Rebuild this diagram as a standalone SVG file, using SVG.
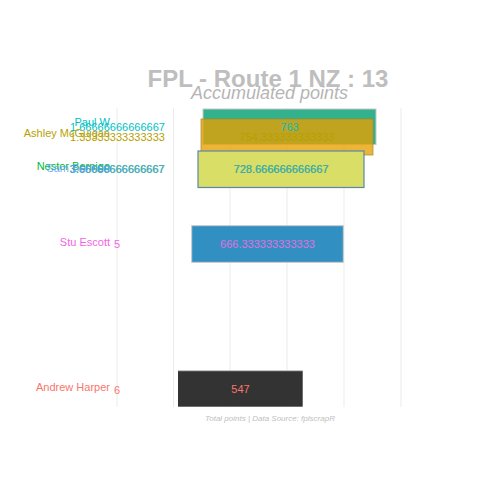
<svg xmlns="http://www.w3.org/2000/svg" width="480" height="480" viewBox="0 0 480 480">
<style>
text{font-family:"Liberation Sans",Arial,sans-serif}
.grid{stroke:#EBEBEB;stroke-width:1}
.name{font-size:11px;text-anchor:end}
.rank{font-size:11px;text-anchor:middle}
.val{font-size:11px;text-anchor:middle}
.title{font-size:24px;font-weight:bold;fill:#BEBEBE;text-anchor:middle}
.sub{font-size:18px;font-style:italic;fill:#B5B5B5;text-anchor:middle}
.cap{font-size:8px;font-style:italic;fill:#C0C0C0;text-anchor:middle}
</style>
<rect width="480" height="480" fill="#FFFFFF"/>
<g id="grid">
<line class="grid" x1="117" y1="108" x2="117" y2="407"/>
<line class="grid" x1="173.5" y1="108" x2="173.5" y2="407"/>
<line class="grid" x1="230" y1="108" x2="230" y2="407"/>
<line class="grid" x1="287" y1="108" x2="287" y2="407"/>
<line class="grid" x1="344" y1="108" x2="344" y2="407"/>
<line class="grid" x1="401" y1="108" x2="401" y2="407"/>
</g>
<g id="connectors"></g>
<g id="paul-w">
<rect x="203" y="109" width="173" height="35.5" fill="#33B08C" stroke="#C8C8C8" stroke-width="1"/>
<text class="name" x="110" y="126" fill="#00BFC4">Paul W</text>
<text class="rank" x="117.5" y="130.5" fill="#00BFC4">1.66666666666667</text>
</g>
<g id="ashley">
<rect x="201" y="119" width="172" height="36" fill="#E8A000" fill-opacity="0.78" stroke="#A08A30" stroke-opacity="0.7" stroke-width="1"/>
<text class="name" x="110" y="137" fill="#B79F00">Ashley McGuigan</text>
<text class="rank" x="117.5" y="141" fill="#B79F00">1.33333333333333</text>
<text class="val" x="287" y="140.5" fill="#B79F00">754.333333333333</text>
</g>
<text class="val" x="289.5" y="130.5" fill="#00BFC4">763</text>
<g id="nestor">
<rect x="198" y="151" width="166" height="36.5" fill="#D9DE66" stroke="#5B87A8" stroke-width="1.2"/>
<text class="name" x="110" y="169.5" fill="#00BA38">Nestor Bernigo</text>
<text class="rank" x="117" y="172.8" fill="#00BA38">3.66666666666667</text>
<text class="val" x="281" y="172.8" fill="#00BA38">728.666666666667</text>
</g>
<g id="sam-b">
<text class="name" x="110" y="172" fill="#619CFF" fill-opacity="0.85">Sam Bennett</text>
<text class="rank" x="117.5" y="173.3" fill="#619CFF" fill-opacity="0.8">3.66666666666667</text>
<text class="val" x="281.4" y="173.3" fill="#619CFF" fill-opacity="0.7">728.666666666667</text>
</g>
<g id="stu-escott">
<rect x="191.7" y="225.7" width="151.6" height="36.6" fill="#318FC2" stroke="#C8C8C8" stroke-width="1"/>
<text class="name" x="110" y="246" fill="#F564E3">Stu Escott</text>
<text class="rank" x="117" y="248.3" fill="#F564E3">5</text>
<text class="val" x="267.5" y="248" fill="#E070E0">666.333333333333</text>
</g>
<g id="andrew-harper">
<rect x="178" y="370.7" width="124.7" height="36" fill="#333333"/>
<line x1="178" y1="370.7" x2="302.7" y2="370.7" stroke="#C8C8C8" stroke-width="1"/>
<text class="name" x="110" y="390.5" fill="#F8766D">Andrew Harper</text>
<text class="rank" x="117" y="393.5" fill="#F8766D">6</text>
<text class="val" x="240.5" y="393" fill="#F8766D">547</text>
</g>
<text class="title" x="268" y="87">FPL - Route 1 NZ : 13</text>
<text class="sub" x="269.5" y="99">Accumulated points</text>
<text class="cap" x="270" y="421">Total points | Data Source: fplscrapR</text>
</svg>
